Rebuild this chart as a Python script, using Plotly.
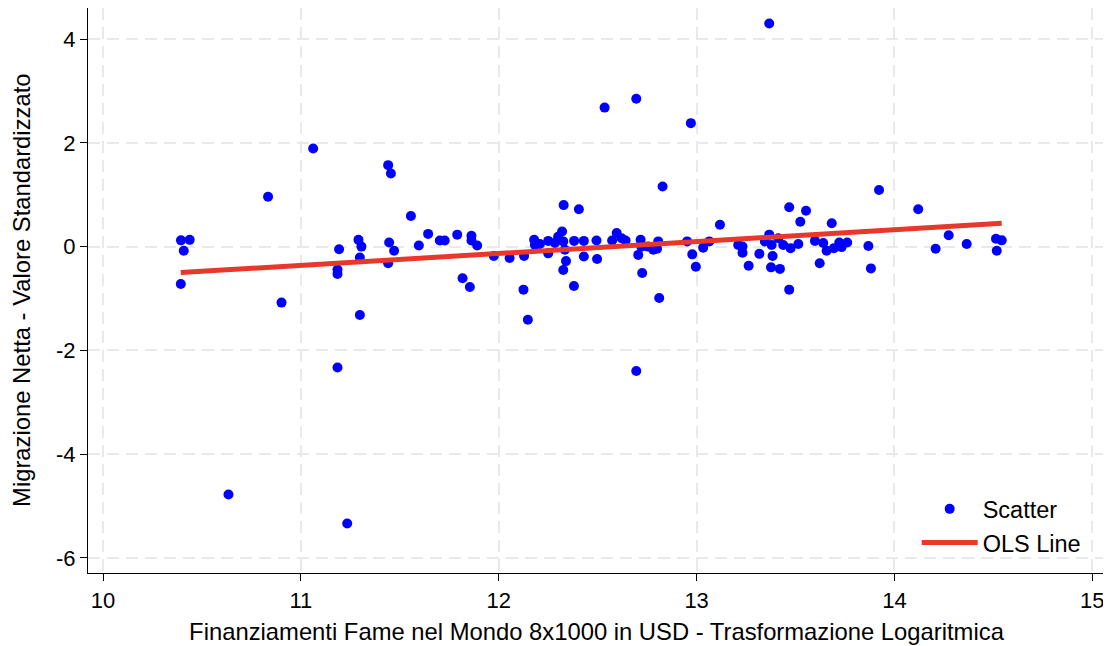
import numpy as np
import plotly.graph_objects as go

# Data
fund_log = [
    10.394, 10.438, 10.408, 10.393, 10.834, 10.902, 11.062, 11.193, 11.185, 11.185,
    11.291, 11.306, 11.298, 11.298, 11.185, 10.634, 11.234, 11.441, 11.455, 11.556,
    11.446, 11.471, 11.441, 11.596, 11.643, 11.702, 11.727, 11.790, 11.862, 11.862,
    11.891, 11.817, 11.854, 11.975, 12.055, 12.128, 12.125, 12.147, 12.179, 12.183,
    12.208, 12.250, 12.250, 12.284, 12.300, 12.320, 12.326, 12.334, 12.340, 12.326,
    12.328, 12.405, 12.381, 12.380, 12.430, 12.430, 12.494, 12.497, 12.535, 12.573,
    12.596, 12.621, 12.641, 12.695, 12.717, 12.720, 12.705, 12.725, 12.755, 12.781,
    12.806, 12.800, 12.811, 12.828, 12.695, 12.952, 12.978, 12.971, 12.996, 13.033,
    13.064, 13.118, 13.210, 13.232, 13.232, 13.263, 13.317, 13.367, 13.345, 13.379,
    13.384, 13.376, 13.421, 13.413, 13.438, 13.468, 13.468, 13.475, 13.514, 13.553,
    13.524, 13.598, 13.622, 13.640, 13.657, 13.683, 13.694, 13.721, 13.733, 13.761,
    13.367, 13.922, 13.868, 13.881, 14.120, 14.208, 14.274, 14.365, 14.513, 14.542,
    14.517,
]
migration_std = [
    0.12, 0.13, -0.08, -0.72, 0.96, -1.08, 1.89, -0.05, -0.44, -0.53,
    0.13, 0.00, -0.21, -1.32, -2.33, -4.78, -5.34, 1.57, 1.41, 0.59,
    0.08, -0.08, -0.32, 0.02, 0.245, 0.116, 0.116, 0.23, 0.21, 0.116,
    0.02, -0.61, -0.78, -0.18, -0.22, -0.18, -0.83, -1.41, 0.13, 0.03,
    0.05, 0.11, -0.13, 0.07, 0.19, 0.29, 0.10, -0.06, -0.28, -0.45,
    0.80, 0.72, 0.11, -0.76, 0.11, -0.19, 0.116, -0.24, 2.68, 0.116,
    0.26, 0.16, 0.116, 2.85, 0.13, 0.00, -0.16, -0.51, 0.00, -0.06,
    0.10, -0.04, -0.99, 1.16, -2.40, 0.10, -0.15, 2.38, -0.39, -0.02,
    0.10, 0.42, 0.03, 0.00, -0.12, -0.37, -0.14, 0.23, 0.10, 0.03,
    -0.18, -0.40, -0.43, 0.16, 0.03, 0.76, -0.83, -0.03, 0.05, 0.69,
    0.48, 0.11, -0.32, 0.07, -0.08, 0.45, -0.03, 0.08, -0.01, 0.08,
    4.30, 1.09, 0.01, -0.42, 0.72, -0.04, 0.22, 0.05, 0.15, 0.12,
    -0.08,
]
x_ticks = [10, 11, 12, 13, 14, 15]
x_tick_labels = ["10", "11", "12", "13", "14", "15"]
y_ticks = [-6, -4, -2, 0, 2, 4]
y_tick_labels = ["-6", "-4", "-2", "0", "2", "4"]
x_title = "Finanziamenti Fame nel Mondo 8x1000 in USD - Trasformazione Logaritmica"
y_title = "Migrazione Netta - Valore Standardizzato"

x_arr = np.array(fund_log)
y_arr = np.array(migration_std)
slope, intercept = np.polyfit(x_arr, y_arr, 1)
ols_x = np.array([x_arr.min(), x_arr.max()])
ols_y = intercept + slope * ols_x

FONT = "Liberation Sans, Arial, Helvetica, sans-serif"

fig = go.Figure()
fig.add_trace(go.Scatter(
    x=fund_log, y=migration_std, mode="markers", name="Scatter",
    marker=dict(color="#0000ff", size=10, line=dict(width=0)),
))
fig.add_trace(go.Scatter(
    x=ols_x, y=ols_y, mode="lines", name="OLS Line",
    line=dict(color="#e8372b", width=5),
))

axis_common = dict(
    showline=True, linecolor="#000000", linewidth=1.2,
    ticks="outside", ticklen=7, tickwidth=1.2, tickcolor="#000000",
    showgrid=True, gridcolor="#e9e9e9", gridwidth=1.6, griddash="12px,7px",
    zeroline=False, mirror=False, automargin=False,
    tickfont=dict(family=FONT, size=22, color="#000000"),
)

fig.update_layout(
    width=1111, height=646,
    margin=dict(l=80, r=14, t=0, b=81),
    paper_bgcolor="#ffffff", plot_bgcolor="#ffffff",
    font=dict(family=FONT, color="#000000"),
    xaxis=dict(
        range=[9.924, 15.064], tickvals=x_ticks, ticktext=x_tick_labels,
        title=dict(text=x_title, font=dict(family=FONT, size=23.8), standoff=11),
        **axis_common,
    ),
    yaxis=dict(
        range=[-6.293, 4.60], tickvals=y_ticks, ticktext=y_tick_labels,
        **axis_common,
    ),
    legend=dict(
        x=0.981, y=0.014, xanchor="right", yanchor="bottom",
        bgcolor="rgba(255,255,255,0)", borderwidth=0,
        font=dict(family=FONT, size=23.5, color="#000000"),
        itemwidth=56,
    ),
    showlegend=True,
)

fig.add_annotation(
    text=y_title, textangle=-90,
    xref="paper", yref="paper", x=0, y=0.5,
    xanchor="center", yanchor="middle", xshift=-66.6,
    showarrow=False,
    font=dict(family=FONT, size=23.8, color="#000000"),
)

fig.write_html("out.html")
